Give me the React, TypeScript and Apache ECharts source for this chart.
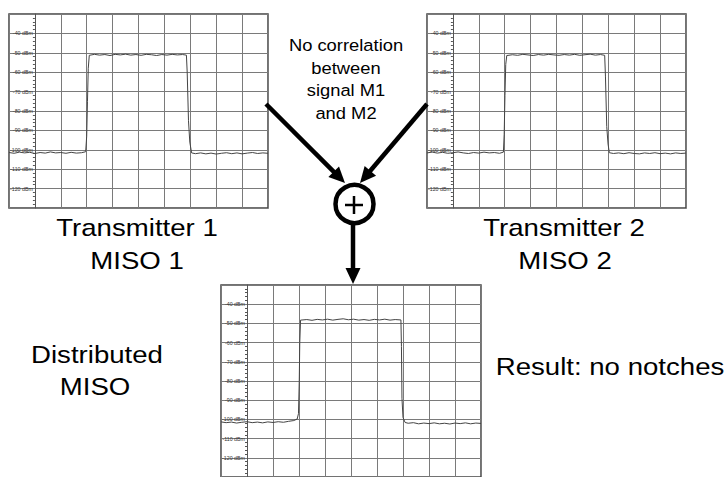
import React, { useEffect, useRef } from 'react';
import * as echarts from 'echarts';

// Level axis (dBm) and frequency divisions
const levelMin = -130;
const levelMax = -30;
const levelStep = 10;
const freqMin = 0;
const freqMax = 100;
const freqStep = 10;
const levelUnit = 'dBm';

// Transmitter 1 spectrum trace [frequency division %, level dBm]
const tx1Trace: [number, number][] = [
  [0, -101.4], [2, -101.8], [4, -101.2], [6, -101.6], [8, -101.3], [10, -101.9], [12, -101.4],
  [14, -101.7], [16, -101.1], [18, -101.6], [20, -101.4], [22, -101.8], [24, -101.3], [26, -101.7],
  [28, -101.5], [29.6, -101.0], [30, -93], [30.3, -75], [30.6, -58], [31, -51.3], [33, -50.8],
  [35, -51.2], [37, -50.9], [39, -51.4], [41, -50.8], [43, -51.1], [45, -50.7], [47, -51.2],
  [49, -50.9], [51, -51.3], [53, -50.8], [55, -51.0], [57, -51.4], [59, -50.9], [61, -51.2],
  [63, -50.8], [65, -51.1], [67, -50.9], [68.5, -51.2], [68.8, -60], [69.3, -85], [69.8, -96],
  [70.5, -101.6], [72, -102.0], [74, -101.6], [76, -102.1], [78, -101.7], [80, -102.2],
  [82, -101.8], [84, -101.5], [86, -102.0], [88, -101.6], [90, -102.1], [92, -101.7],
  [94, -101.4], [96, -101.9], [98, -101.6], [100, -101.8],
];

// Transmitter 2 spectrum trace
const tx2Trace: [number, number][] = [
  [0, -101.6], [2, -101.2], [4, -101.7], [6, -101.3], [8, -101.8], [10, -101.5], [12, -101.1],
  [14, -101.6], [16, -101.9], [18, -101.4], [20, -101.7], [22, -101.2], [24, -101.6], [26, -101.4],
  [28, -101.8], [29.5, -101.2], [29.8, -92], [30.1, -72], [30.4, -56], [30.8, -51.4], [33, -51.0],
  [35, -51.3], [37, -50.8], [39, -51.1], [41, -51.4], [43, -50.9], [45, -51.2], [47, -50.8],
  [49, -51.1], [51, -51.3], [53, -50.9], [55, -51.2], [57, -50.8], [59, -51.3], [61, -51.0],
  [63, -50.7], [65, -51.2], [67, -50.9], [68.6, -51.3], [68.9, -62], [69.4, -88], [69.9, -97],
  [70.4, -101.5], [72, -101.9], [74, -101.6], [76, -102.0], [78, -101.5], [80, -101.9],
  [82, -102.1], [84, -101.6], [86, -101.9], [88, -101.5], [90, -102.0], [92, -101.7],
  [94, -102.1], [96, -101.6], [98, -101.9], [100, -101.7],
];

// Distributed MISO (sum) spectrum trace
const misoTrace: [number, number][] = [
  [0, -101.3], [2, -101.7], [4, -101.4], [6, -101.9], [8, -101.5], [10, -101.2], [12, -101.7],
  [14, -101.4], [16, -101.8], [18, -101.3], [20, -101.6], [22, -101.2], [24, -101.5], [26, -101.0],
  [28, -100.6], [29.3, -99.8], [29.8, -97], [30.1, -80], [30.3, -60], [30.6, -48.3], [33, -48.0],
  [35, -48.4], [37, -47.9], [39, -48.2], [41, -47.8], [43, -48.3], [45, -47.9], [47, -47.6],
  [49, -48.1], [51, -47.8], [53, -48.3], [55, -48.0], [57, -48.4], [59, -47.9], [61, -48.2],
  [63, -47.8], [65, -48.3], [67, -48.0], [69.2, -48.2], [69.4, -62], [69.6, -89], [70.0, -99],
  [70.8, -101.6], [72, -102.0], [74, -101.7], [76, -102.3], [78, -101.9], [80, -102.2],
  [82, -101.8], [84, -102.3], [86, -102.0], [88, -102.4], [90, -101.9], [92, -102.2],
  [94, -101.8], [96, -102.3], [98, -101.9], [100, -102.1],
];

const panels = [
  { left: 9, top: 14, width: 259, height: 194, trace: tx1Trace },
  { left: 427, top: 14, width: 259, height: 194, trace: tx2Trace },
  { left: 221, top: 285, width: 260, height: 196, trace: misoTrace },
];

const FONT = '"Liberation Sans", Arial, sans-serif';

function label(text: string, x: number, y: number, size: number, sx: number) {
  return {
    type: 'text',
    x,
    y,
    scaleX: sx,
    z: 100,
    style: {
      text,
      x: 0,
      y: 0,
      fill: '#000',
      font: `${size}px ${FONT}`,
      textAlign: 'center',
      textVerticalAlign: 'middle',
      align: 'center',
      verticalAlign: 'middle',
    },
  };
}

function arrow(x1: number, y1: number, x2: number, y2: number, headLen = 16, halfW = 7.5) {
  const dx = x2 - x1;
  const dy = y2 - y1;
  const L = Math.hypot(dx, dy);
  const ux = dx / L;
  const uy = dy / L;
  const bx = x2 - ux * headLen;
  const by = y2 - uy * headLen;
  const px = -uy;
  const py = ux;
  return [
    {
      type: 'line',
      z: 100,
      shape: { x1, y1, x2: bx + ux * 2, y2: by + uy * 2 },
      style: { stroke: '#000', lineWidth: 4.5 },
    },
    {
      type: 'polygon',
      z: 100,
      shape: {
        points: [
          [x2, y2],
          [bx + px * halfW, by + py * halfW],
          [bx - px * halfW, by - py * halfW],
        ],
      },
      style: { fill: '#000' },
    },
  ];
}

export default function App() {
  const ref = useRef<HTMLDivElement>(null);

  useEffect(() => {
    if (!ref.current) return;
    const chart = echarts.init(ref.current, null, { renderer: 'svg' });

    const graphic: any[] = [
      label('No correlation', 346, 45.5, 17, 1.08),
      label('between', 346, 68, 17, 1.08),
      label('signal M1', 346, 90.5, 17, 1.08),
      label('and M2', 346, 113, 17, 1.08),
      label('Transmitter 1', 137, 227.5, 24, 1.15),
      label('MISO 1', 137, 260.5, 24, 1.15),
      label('Transmitter 2', 564, 228, 24, 1.15),
      label('MISO 2', 565, 260.5, 24, 1.15),
      label('Distributed', 97, 354.5, 24, 1.15),
      label('MISO', 95, 387, 24, 1.15),
      label('Result: no notches', 610, 366.5, 24, 1.15),
      ...arrow(266, 104, 345, 183),
      ...arrow(427, 104, 360, 183),
      ...arrow(353, 222, 353, 284),
      {
        type: 'circle',
        z: 101,
        shape: { cx: 354.5, cy: 204, r: 19 },
        style: { fill: '#fff', stroke: '#000', lineWidth: 4.5 },
      },
      {
        type: 'line',
        z: 102,
        shape: { x1: 345, y1: 205, x2: 363, y2: 205 },
        style: { stroke: '#000', lineWidth: 2.5 },
      },
      {
        type: 'line',
        z: 102,
        shape: { x1: 354, y1: 196, x2: 354, y2: 214 },
        style: { stroke: '#000', lineWidth: 2.5 },
      },
    ];

    chart.setOption({
      animation: false,
      backgroundColor: '#fff',
      grid: panels.map((p) => ({
        left: p.left,
        top: p.top,
        width: p.width,
        height: p.height,
        show: true,
        borderColor: '#444',
        borderWidth: 1.5,
        backgroundColor: '#fff',
      })),
      xAxis: panels.map((p, i) => ({
        type: 'value',
        gridIndex: i,
        min: freqMin,
        max: freqMax,
        interval: freqStep,
        axisLine: { show: false },
        axisTick: { show: false },
        axisLabel: { show: false },
        splitLine: { show: true, lineStyle: { color: '#7a7a7a', width: 1 } },
      })),
      yAxis: panels.map((p, i) => ({
        type: 'value',
        gridIndex: i,
        min: levelMin,
        max: levelMax,
        interval: levelStep,
        position: 'left',
        offset: -p.width / 10,
        axisLine: { show: true, onZero: false, lineStyle: { color: '#555', width: 1 } },
        axisTick: { show: false },
        minorTick: { show: true, splitNumber: 5, length: 2, lineStyle: { color: '#555' } },
        minorSplitLine: { show: false },
        axisLabel: {
          show: true,
          formatter: (v: number) => `${v} ${levelUnit}`,
          fontSize: 5.3,
          color: '#333',
          margin: 2,
          fontFamily: FONT,
          showMinLabel: false,
          showMaxLabel: false,
          hideOverlap: false,
        },
        splitLine: { show: true, lineStyle: { color: '#7a7a7a', width: 1 } },
      })),
      series: panels.map((p, i) => ({
        type: 'line',
        xAxisIndex: i,
        yAxisIndex: i,
        data: p.trace,
        showSymbol: false,
        symbol: 'none',
        silent: true,
        lineStyle: { color: '#444', width: 1 },
      })),
      graphic,
    });

    return () => chart.dispose();
  }, []);

  return (
    <div
      ref={ref}
      style={{ position: 'absolute', left: 0, top: 0, width: 727, height: 477, background: '#fff' }}
    />
  );
}
